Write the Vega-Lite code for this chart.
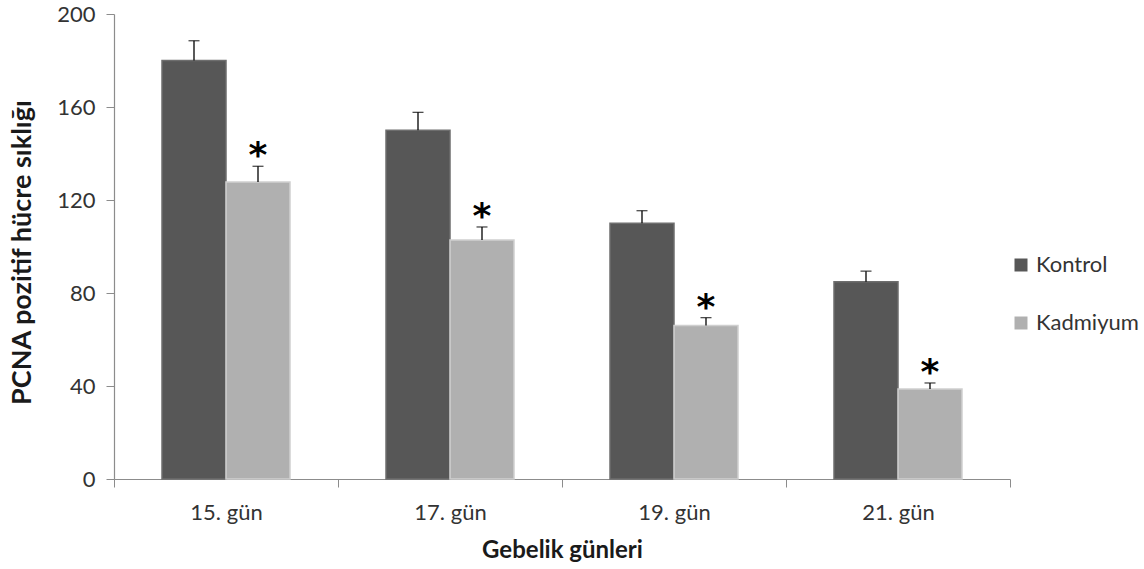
{
  "$schema": "https://vega.github.io/schema/vega-lite/v6.json",
  "width": 896,
  "height": 465,
  "autosize": {"type": "none"},
  "padding": {"left": 114, "top": 14, "right": 134, "bottom": 90},
  "background": "white",
  "config": {
    "view": {"stroke": null},
    "font": "Lato"
  },
  "data": {
    "values": [
      {"gun": "15. gün", "grup": "Kontrol", "deger": 180, "ust": 188.5, "yildiz": ""},
      {"gun": "15. gün", "grup": "Kadmiyum", "deger": 127.7, "ust": 134.5, "yildiz": "*"},
      {"gun": "17. gün", "grup": "Kontrol", "deger": 150, "ust": 157.7, "yildiz": ""},
      {"gun": "17. gün", "grup": "Kadmiyum", "deger": 102.8, "ust": 108.4, "yildiz": "*"},
      {"gun": "19. gün", "grup": "Kontrol", "deger": 110, "ust": 115.4, "yildiz": ""},
      {"gun": "19. gün", "grup": "Kadmiyum", "deger": 66, "ust": 69.4, "yildiz": "*"},
      {"gun": "21. gün", "grup": "Kontrol", "deger": 84.8, "ust": 89.4, "yildiz": ""},
      {"gun": "21. gün", "grup": "Kadmiyum", "deger": 38.7, "ust": 41.3, "yildiz": "*"}
    ]
  },
  "encoding": {
    "x": {
      "field": "gun",
      "type": "nominal",
      "sort": null,
      "scale": {"paddingInner": 0, "paddingOuter": 0},
      "axis": {
        "title": "Gebelik günleri",
        "titleFont": "Lato",
        "titleFontSize": 24,
        "titleFontWeight": "bold",
        "titleColor": "#1a1a1a",
        "titleY": 71,
        "titleBaseline": "middle",
        "labelAngle": 0,
        "labelFontSize": 22,
        "labelColor": "#333333",
        "labelPadding": 15,
        "tickBand": "extent",
        "tickColor": "#8c8c8c",
        "tickSize": 8,
        "domainColor": "#8c8c8c",
        "domainWidth": 1.2
      }
    },
    "xOffset": {
      "field": "grup",
      "type": "nominal",
      "sort": ["Kontrol", "Kadmiyum"],
      "scale": {"paddingInner": 0, "paddingOuter": 0.75}
    }
  },
  "layer": [
    {
      "mark": {"type": "bar", "strokeWidth": 1.5},
      "encoding": {
        "y": {
          "field": "deger",
          "type": "quantitative",
          "scale": {"domain": [0, 200], "nice": false},
          "axis": {
            "values": [0, 40, 80, 120, 160, 200],
            "grid": false,
            "title": "PCNA pozitif hücre sıklığı",
            "titleFont": "Lato",
            "titleFontSize": 27,
            "titleFontWeight": "bold",
            "titleColor": "#1a1a1a",
            "titleAngle": -90,
            "titleX": -92,
            "titleY": 238,
            "titleAlign": "center",
            "titleBaseline": "middle",
            "labelFontSize": 22,
            "labelColor": "#333333",
            "labelPadding": 11,
            "tickColor": "#8c8c8c",
            "tickSize": 8,
            "domainColor": "#8c8c8c",
            "domainWidth": 1.2
          }
        },
        "color": {
          "field": "grup",
          "type": "nominal",
          "sort": ["Kontrol", "Kadmiyum"],
          "scale": {"domain": ["Kontrol", "Kadmiyum"], "range": ["#575757", "#b0b0b0"]},
          "legend": {
            "title": null,
            "orient": "none",
            "legendX": 896,
            "legendY": 240,
            "symbolType": "square",
            "symbolSize": 169,
            "symbolStrokeWidth": 0,
            "labelFontSize": 22,
            "labelColor": "#333333",
            "labelOffset": 4,
            "rowPadding": 36
          }
        },
        "stroke": {
          "field": "grup",
          "type": "nominal",
          "scale": {"domain": ["Kontrol", "Kadmiyum"], "range": ["#6e6e6e", "#cfcfcf"]},
          "legend": null
        }
      }
    },
    {
      "mark": {"type": "rule", "color": "#000000", "strokeWidth": 1.3},
      "encoding": {
        "y": {"field": "deger", "type": "quantitative"},
        "y2": {"field": "ust"}
      }
    },
    {
      "mark": {"type": "tick", "color": "#000000", "thickness": 1.3, "size": 11},
      "encoding": {
        "y": {"field": "ust", "type": "quantitative"}
      }
    },
    {
      "mark": {"type": "text", "font": "DejaVu Sans", "fontWeight": "bold", "fontSize": 36, "baseline": "alphabetic", "dy": 1, "color": "#000000"},
      "encoding": {
        "y": {"field": "ust", "type": "quantitative"},
        "text": {"field": "yildiz"}
      }
    }
  ]
}
